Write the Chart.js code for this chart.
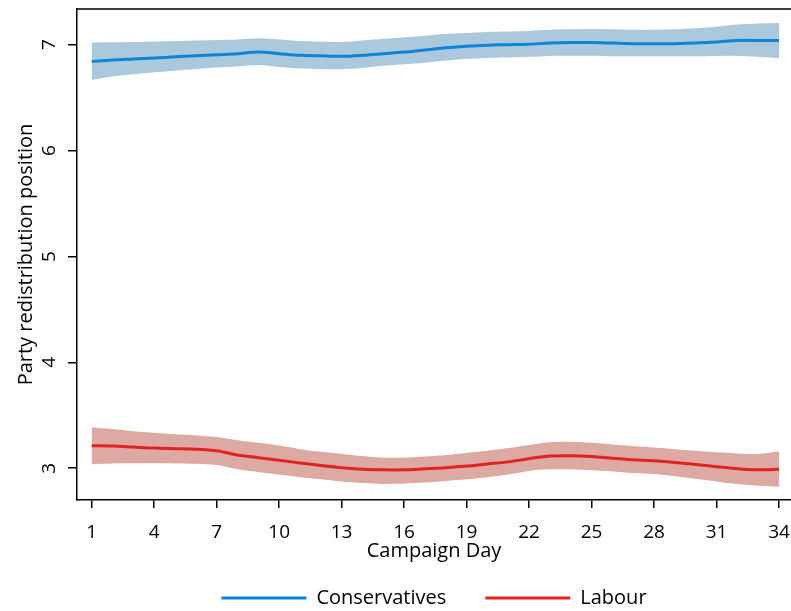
<!DOCTYPE html>
<html>
<head>
<meta charset="utf-8">
<script src="https://cdn.jsdelivr.net/npm/chart.js@4/dist/chart.umd.min.js"></script>
<style>
  html, body { margin: 0; padding: 0; background: #fff; }
  #wrap { width: 791px; height: 611px; }
</style>
</head>
<body>
<div id="wrap"><canvas id="chart" width="791" height="611"></canvas></div>
<script>
// campaign days
const days = [1, 2, 3, 4, 5, 6, 7, 8, 9, 10, 11, 12, 13, 14, 15, 16, 17,
              18, 19, 20, 21, 22, 23, 24, 25, 26, 27, 28, 29, 30, 31, 32, 33, 34];
const xTicks = [1, 4, 7, 10, 13, 16, 19, 22, 25, 28, 31, 34];
const yTicks = [3, 4, 5, 6, 7];

// Conservatives: estimate + 95% band
const conMean = [6.84, 6.855, 6.865, 6.875, 6.885, 6.895, 6.905, 6.915, 6.93, 6.915, 6.90, 6.895,
                 6.89, 6.90, 6.915, 6.93, 6.95, 6.97, 6.985, 6.995, 7.00, 7.005, 7.015, 7.02,
                 7.02, 7.015, 7.01, 7.01, 7.01, 7.015, 7.025, 7.04, 7.04, 7.04];
const conUpper = [7.02, 7.022, 7.025, 7.03, 7.035, 7.04, 7.045, 7.05, 7.06, 7.05, 7.035, 7.03,
                  7.025, 7.04, 7.055, 7.07, 7.085, 7.10, 7.11, 7.12, 7.125, 7.13, 7.14, 7.145,
                  7.148, 7.145, 7.14, 7.14, 7.145, 7.155, 7.17, 7.19, 7.20, 7.205];
const conLower = [6.667, 6.70, 6.72, 6.74, 6.755, 6.77, 6.785, 6.795, 6.808, 6.79, 6.775, 6.77,
                  6.768, 6.78, 6.80, 6.815, 6.83, 6.85, 6.865, 6.875, 6.88, 6.885, 6.893, 6.895,
                  6.895, 6.89, 6.89, 6.89, 6.89, 6.89, 6.893, 6.895, 6.885, 6.872];

// Labour: estimate + 95% band
const labMean = [3.213, 3.21, 3.20, 3.19, 3.185, 3.18, 3.165, 3.125, 3.10, 3.075, 3.05, 3.025,
                 3.005, 2.99, 2.985, 2.985, 2.995, 3.005, 3.02, 3.04, 3.06, 3.09, 3.115, 3.118,
                 3.11, 3.095, 3.08, 3.07, 3.055, 3.035, 3.015, 2.995, 2.985, 2.99];
const labUpper = [3.387, 3.37, 3.35, 3.335, 3.32, 3.31, 3.295, 3.265, 3.24, 3.215, 3.18, 3.155,
                  3.135, 3.115, 3.10, 3.10, 3.11, 3.125, 3.145, 3.165, 3.19, 3.22, 3.245, 3.25,
                  3.24, 3.225, 3.21, 3.195, 3.18, 3.165, 3.15, 3.14, 3.135, 3.157];
const labLower = [3.038, 3.045, 3.047, 3.046, 3.045, 3.042, 3.03, 2.99, 2.965, 2.94, 2.915, 2.895,
                  2.875, 2.86, 2.852, 2.855, 2.865, 2.88, 2.895, 2.915, 2.94, 2.975, 2.99, 2.99,
                  2.98, 2.97, 2.955, 2.945, 2.925, 2.90, 2.875, 2.85, 2.835, 2.826];

const seriesNames = ['Conservatives', 'Labour'];
const lineColors = ['#0b84d9', '#de2321'];
const bandColors = ['#abc8dc', '#dcaaa2'];

function pts(ys) {
    return days.map(function (d, i) { return { x: d, y: ys[i] }; });
}

Chart.defaults.font.family = "'Open Sans', sans-serif";
Chart.defaults.color = '#000';

// legend under plot centre, top frame line, rotated y tick labels
const framePlugin = {
    id: 'frame',
    afterLayout(chart) {
        const legend = chart.legend;
        const area = chart.chartArea;
        const dx = (area.left + area.right) / 2 - (legend.left + legend.right) / 2;
        legend.left += dx;
        legend.right += dx;
        legend.top -= 22;
        legend.bottom -= 22;
    },
    afterDraw(chart) {
        const ctx = chart.ctx;
        const a = chart.chartArea;
        const yScale = chart.scales.y;
        ctx.save();
        ctx.strokeStyle = '#000';
        ctx.lineWidth = 1.5;
        ctx.beginPath();
        ctx.moveTo(a.left, a.top);
        ctx.lineTo(a.right, a.top);
        ctx.stroke();

        ctx.fillStyle = '#000';
        ctx.font = "19px 'Open Sans', sans-serif";
        ctx.textAlign = 'center';
        ctx.textBaseline = 'middle';
        yTicks.forEach(function (v) {
            ctx.save();
            ctx.translate(a.left - 27, yScale.getPixelForValue(v));
            ctx.rotate(-Math.PI / 2);
            ctx.fillText(String(v), 0, 0);
            ctx.restore();
        });
        ctx.restore();
    }
};

const lineBase = { pointRadius: 0, tension: 0.3, fill: false };

new Chart(document.getElementById('chart'), {
    type: 'line',
    data: {
        datasets: [
            Object.assign({ label: seriesNames[0], data: pts(conMean), borderColor: lineColors[0], borderWidth: 3 }, lineBase),
            Object.assign({ label: seriesNames[1], data: pts(labMean), borderColor: lineColors[1], borderWidth: 3 }, lineBase),
            { label: 'conUpper', data: pts(conUpper), borderWidth: 0, pointRadius: 0, tension: 0.3,
              backgroundColor: bandColors[0], fill: 3 },
            { label: 'conLower', data: pts(conLower), borderWidth: 0, pointRadius: 0, tension: 0.3, fill: false },
            { label: 'labUpper', data: pts(labUpper), borderWidth: 0, pointRadius: 0, tension: 0.3,
              backgroundColor: bandColors[1], fill: 5 },
            { label: 'labLower', data: pts(labLower), borderWidth: 0, pointRadius: 0, tension: 0.3, fill: false }
        ]
    },
    options: {
        responsive: false,
        animation: false,
        layout: { padding: { top: 9, left: 0, right: 0, bottom: -29 } },
        plugins: {
            tooltip: { enabled: false },
            legend: {
                position: 'bottom',
                labels: {
                    boxWidth: 85,
                    boxHeight: 3,
                    padding: 39,
                    font: { size: 20 },
                    generateLabels: function () {
                        return seriesNames.map(function (name, i) {
                            return { text: name, fillStyle: lineColors[i], strokeStyle: lineColors[i],
                                     lineWidth: 0, datasetIndex: i };
                        });
                    }
                }
            }
        },
        scales: {
            x: {
                type: 'linear',
                min: 0.295,
                max: 34.576,
                afterBuildTicks: function (scale) {
                    scale.ticks = xTicks.map(function (v) { return { value: v }; });
                },
                afterFit: function (scale) {
                    scale.height = 71;
                    scale.paddingLeft = 0;
                    scale.paddingRight = 0;
                },
                grid: { display: true, drawOnChartArea: false, drawTicks: true, tickLength: 8,
                        color: '#000', lineWidth: 1.5 },
                border: { display: true, color: '#000', width: 1.5 },
                ticks: { font: { size: 19 }, padding: 13, maxRotation: 0, autoSkip: false },
                title: { display: true, text: 'Campaign Day', font: { size: 20 },
                         padding: { top: 0, bottom: 8 } }
            },
            y: {
                min: 2.70,
                max: 7.337,
                afterBuildTicks: function (scale) {
                    scale.ticks = yTicks.map(function (v) { return { value: v }; });
                },
                afterFit: function (scale) {
                    scale.width = 77;
                    scale.paddingTop = 0;
                    scale.paddingBottom = 0;
                },
                grid: { display: true, drawOnChartArea: false, drawTicks: true, tickLength: 9,
                        color: '#000', lineWidth: 1.5 },
                border: { display: true, color: '#000', width: 1.5 },
                ticks: { display: false },
                title: { display: true, text: 'Party redistribution position', font: { size: 20 },
                         padding: { top: 14, bottom: 0 } }
            }
        }
    },
    plugins: [framePlugin]
});
</script>
</body>
</html>
